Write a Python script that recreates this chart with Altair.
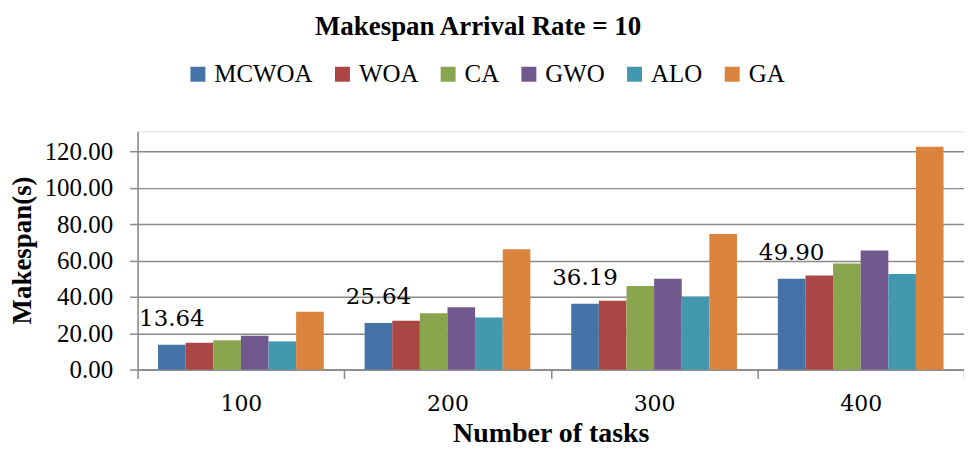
import altair as alt
import pandas as pd

tasks = ["100", "200", "300", "400"]
algorithms = ["MCWOA", "WOA", "CA", "GWO", "ALO", "GA"]
colors = ["#4572A7", "#AA4643", "#89A54E", "#71588F", "#4198AF", "#DB843D"]

MCWOA = [13.64, 25.64, 36.19, 49.90]
WOA = [14.8, 26.8, 37.8, 51.7]
CA = [16.1, 31.0, 46.0, 58.3]
GWO = [18.6, 34.3, 49.9, 65.4]
ALO = [15.5, 28.6, 40.0, 52.5]
GA = [31.8, 66.2, 74.5, 122.5]

series = {"MCWOA": MCWOA, "WOA": WOA, "CA": CA, "GWO": GWO, "ALO": ALO, "GA": GA}
rows = []
for alg in algorithms:
    for t, v in zip(tasks, series[alg]):
        rows.append({"Tasks": t, "Algorithm": alg, "Value": v})
df = pd.DataFrame(rows)

GRID = "#898989"

x_enc = alt.X(
    "Tasks:N",
    sort=tasks,
    scale=alt.Scale(paddingInner=0, paddingOuter=0),
    axis=alt.Axis(
        title="Number of tasks",
        titleFont="Liberation Serif",
        titleFontSize=28,
        titleFontWeight="bold",
        titleColor="black",
        titlePadding=5,
        labelFont="DejaVu Serif",
        labelFontSize=22,
        labelColor="black",
        labelAngle=0,
        labelPadding=15,
        tickBand="extent",
        tickSize=9,
        tickColor=GRID,
        tickWidth=1.5,
        domainColor=GRID,
        domainWidth=1.5,
        grid=False,
    ),
)

y_enc = alt.Y(
    "Value:Q",
    scale=alt.Scale(domain=[0, 131], nice=False),
    axis=alt.Axis(
        title="Makespan(s)",
        titleFont="Liberation Serif",
        titleFontSize=27,
        titleFontWeight="bold",
        titleColor="black",
        titleX=-115,
        titleY=119,
        titleBaseline="middle",
        titleAngle=270,
        values=[0, 20, 40, 60, 80, 100, 120],
        format=".2f",
        labelFont="Liberation Serif",
        labelFontSize=25,
        labelColor="black",
        labelPadding=17,
        labelOverlap=False,
        labelFlush=False,
        tickSize=8,
        tickColor=GRID,
        tickWidth=1.5,
        domainColor=GRID,
        domainWidth=1.5,
        grid=True,
        gridColor=GRID,
        gridWidth=1.5,
    ),
)

xoff_enc = alt.XOffset("Algorithm:N", sort=algorithms,
                       scale=alt.Scale(paddingOuter=0.74, paddingInner=0))

base = alt.Chart(df).encode(x=x_enc, xOffset=xoff_enc, y=y_enc)

bars = base.mark_bar().encode(
    color=alt.Color(
        "Algorithm:N",
        sort=algorithms,
        scale=alt.Scale(domain=algorithms, range=colors),
        legend=alt.Legend(
            title=None,
            orient="none",
            legendX=48,
            legendY=-70,
            direction="horizontal",
            columns=6,
            columnPadding=17,
            symbolType="square",
            symbolSize=225,
            symbolStrokeWidth=0,
            symbolOpacity=1,
            labelFont="Liberation Serif",
            labelFontSize=25,
            labelColor="black",
            labelOffset=4,
            padding=0,
        ),
    ),
)

labels = base.transform_filter(
    alt.datum.Algorithm == "MCWOA"
).mark_text(
    font="DejaVu Serif", fontSize=23, color="black", baseline="bottom", dy=-14
).encode(
    text=alt.Text("Value:Q", format=".2f"),
)

chart = alt.layer(bars, labels).properties(
    width=829,
    height=239,
    padding={"left": 130, "top": 123, "right": 0, "bottom": 80},
    autosize=alt.AutoSizeParams(type="none"),
    title=alt.TitleParams(
        "Makespan Arrival Rate = 10",
        font="Liberation Serif",
        fontSize=27,
        fontWeight="bold",
        color="black",
        anchor="middle",
        frame="group",
        dx=-73,
        offset=21,
    ),
).configure_view(stroke=None).configure(background="white")

chart.save("out.html", embed_options={"renderer": "svg", "actions": False})
